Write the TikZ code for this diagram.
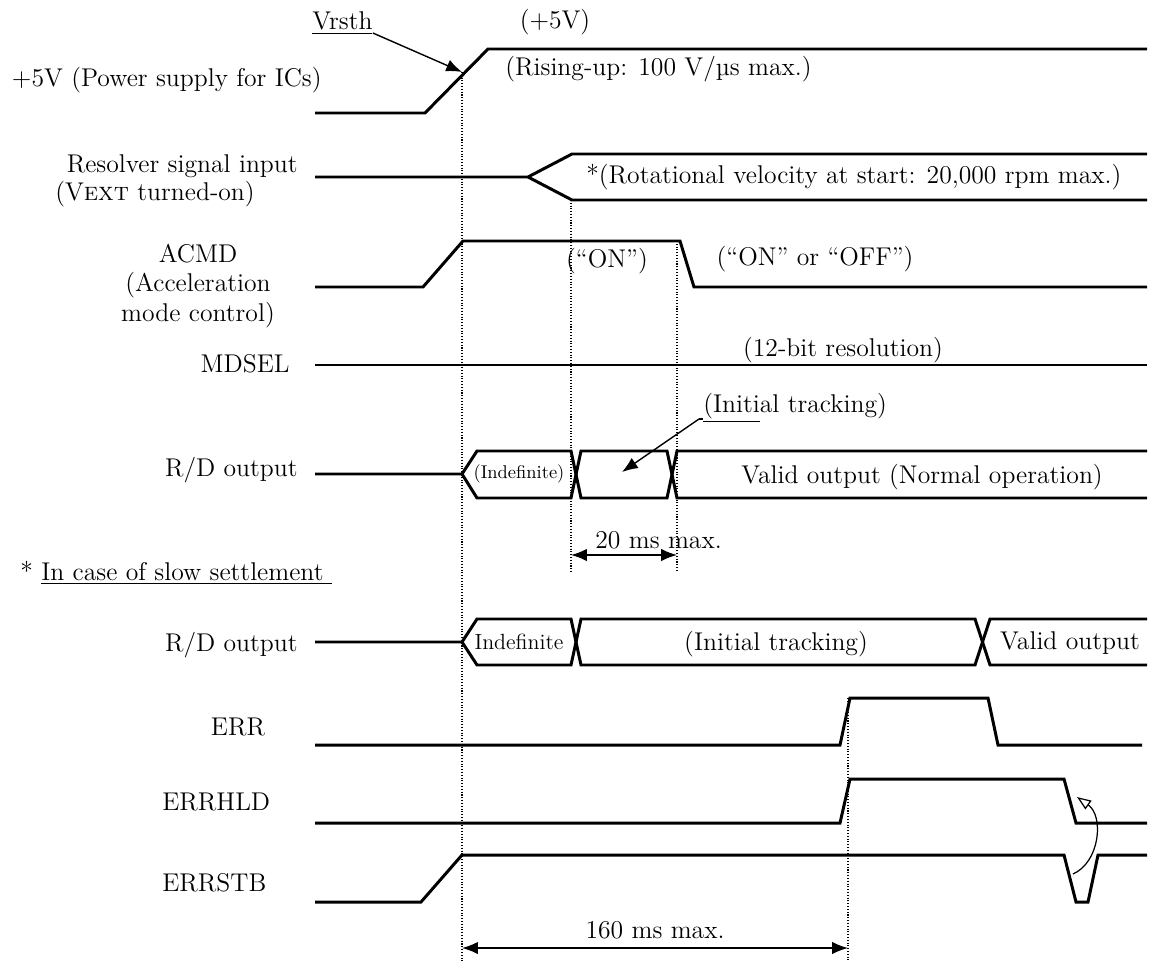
\documentclass[tikz,border=0pt]{standalone}
\usepackage{tikz}
\usetikzlibrary{positioning, arrows.meta, calc}
\tikzstyle{wave} = [line width=1.7pt, line join=miter]
\tikzstyle{guide} = [densely dotted, line width=0.6pt]
\tikzstyle{lbl} = [inner sep=0pt, align=center]
\tikzstyle{arrow} = [line width=0.8pt, -{Latex[length=9pt,width=7pt]}]
\tikzstyle{dim} = [line width=0.8pt, {Latex[length=9pt,width=7pt]}-{Latex[length=9pt,width=7pt]}]
\tikzstyle{hollow} = [line width=0.7pt, -{Triangle[open,length=8pt,width=6pt]}]

\begin{document}
\begin{tikzpicture}[x=0.02cm, y=-0.02cm, font=\fontsize{14.6}{17}\selectfont]
        \useasboundingbox (0,0) rectangle (1168,962);

        \node (vrsth) [lbl, anchor=base west] at (312,30) {\underline{Vrsth}};
        \node (plus) [lbl] at (555,22) {(+5V)};
        \node (rise) [lbl, anchor=west] at (505,69) {(Rising-up: 100 V/µs max.)};
        \node (vdd) [lbl, anchor=east] at (322,80) {+5V (Power supply for ICs)};
        \node (res) [lbl, anchor=east] at (298,166) {Resolver signal input};
        \node (vext) [lbl] at (155,194) {(V\textsc{ext} turned-on)};
        \node (rot) [lbl, anchor=west] at (586,177) {*(Rotational velocity at start: 20,000 rpm max.)};
        \node (acmd) [lbl] at (198,286) {ACMD\\(Acceleration\\mode control)};
        \node (on) [lbl] at (607,261) {(``ON'')};
        \node (onoff) [lbl] at (815,259) {(``ON'' or ``OFF'')};
        \node (mdsel) [lbl, anchor=east] at (290,364) {MDSEL};
        \node (bitres) [lbl] at (843,350) {(12-bit resolution)};
        \node (track) [lbl, anchor=base west] at (703,412) {\underline{(Initi}al tracking)};
        \node (rd) [lbl, anchor=east] at (298,470) {R/D output};
        \node (indef) [lbl, font=\fontsize{10.5}{12}\selectfont] at (519,474) {(Indefinite)};
        \node (valid) [lbl] at (922,477) {Valid output (Normal operation)};
        \node (t20) [lbl, anchor=west] at (595,540) {20 ms max.};
        \node (slow) [lbl, anchor=west] at (20,573) {* \underline{In case of slow settlement\hspace{5pt}}};
        \node (rdslow) [lbl, anchor=east] at (298,645) {R/D output};
        \node (indefslow) [lbl, font=\fontsize{12.5}{14}\selectfont] at (519,642) {Indefinite};
        \node (trackslow) [lbl] at (776,644) {(Initial tracking)};
        \node (validslow) [lbl] at (1070,643) {Valid output};
        \node (err) [lbl] at (238,727) {ERR};
        \node (errhld) [lbl, anchor=west] at (162,802) {ERRHLD};
        \node (errstb) [lbl, anchor=west] at (162,883) {ERRSTB};
        \node (t160) [lbl] at (655,930) {160 ms max.};

        \coordinate (vtip) at (462,72);
        \coordinate (lead) at (699,419);
        \coordinate (ttip) at (622,472);
        \coordinate (t20a) at (571,555);
        \coordinate (t20b) at (677,555);
        \coordinate (t160a) at (462,948);
        \coordinate (t160b) at (848,948);
        \coordinate (stbin) at (1073,874);
        \coordinate (hldin) at (1077,797);

        \draw [guide] (462,72) -- (462,962);
        \draw [guide] (571,200) -- (571,572);
        \draw [guide] (677,241) -- (677,572);
        \draw [guide] (848,698) -- (848,962);

        \draw [wave] (315,113) -- (425,113) -- (488,49) -- (1147,49);
        \draw [wave] (315,177) -- (528,177) -- (572,154) -- (1147,154);
        \draw [wave] (528,177) -- (572,200) -- (1147,200);
        \draw [wave] (315,287) -- (423,287) -- (463,241) -- (680,241) -- (694,287) -- (1147,287);
        \draw [wave] (315,365) -- (1147,365);
        \draw [wave] (315,474) -- (462,474) -- (477,451) -- (571,451) -- (581,498) -- (667,498) -- (677,451) -- (1147,451);
        \draw [wave] (462,474) -- (477,498) -- (571,498) -- (581,451) -- (667,451) -- (677,498) -- (1147,498);
        \draw [wave] (315,642) -- (462,642) -- (477,619) -- (571,619) -- (581,665) -- (975,665) -- (990,619) -- (1147,619);
        \draw [wave] (462,642) -- (477,665) -- (571,665) -- (581,619) -- (975,619) -- (990,665) -- (1147,665);
        \draw [wave] (315,745) -- (840,745) -- (850,698) -- (988,698) -- (998,745) -- (1142,745);
        \draw [wave] (315,823) -- (840,823) -- (850,779) -- (1064,779) -- (1076,823) -- (1147,823);
        \draw [wave] (315,902) -- (421,902) -- (462,855) -- (1064,855) -- (1076,902) -- (1088,902) -- (1098,855) -- (1147,855);

        \draw [arrow] ($(vrsth.base east)+(0,3)$) -- (vtip);
        \draw [line width=0.8pt] (lead) -- (track.base west |- lead);
        \draw [arrow] (lead) -- (ttip);
        \draw [dim] (t20a) -- (t20b);
        \draw [dim] (t160a) -- (t160b);
        \draw [hollow] (stbin) .. controls (1100,862) and (1104,816) .. (hldin);
\end{tikzpicture}
\end{document}
